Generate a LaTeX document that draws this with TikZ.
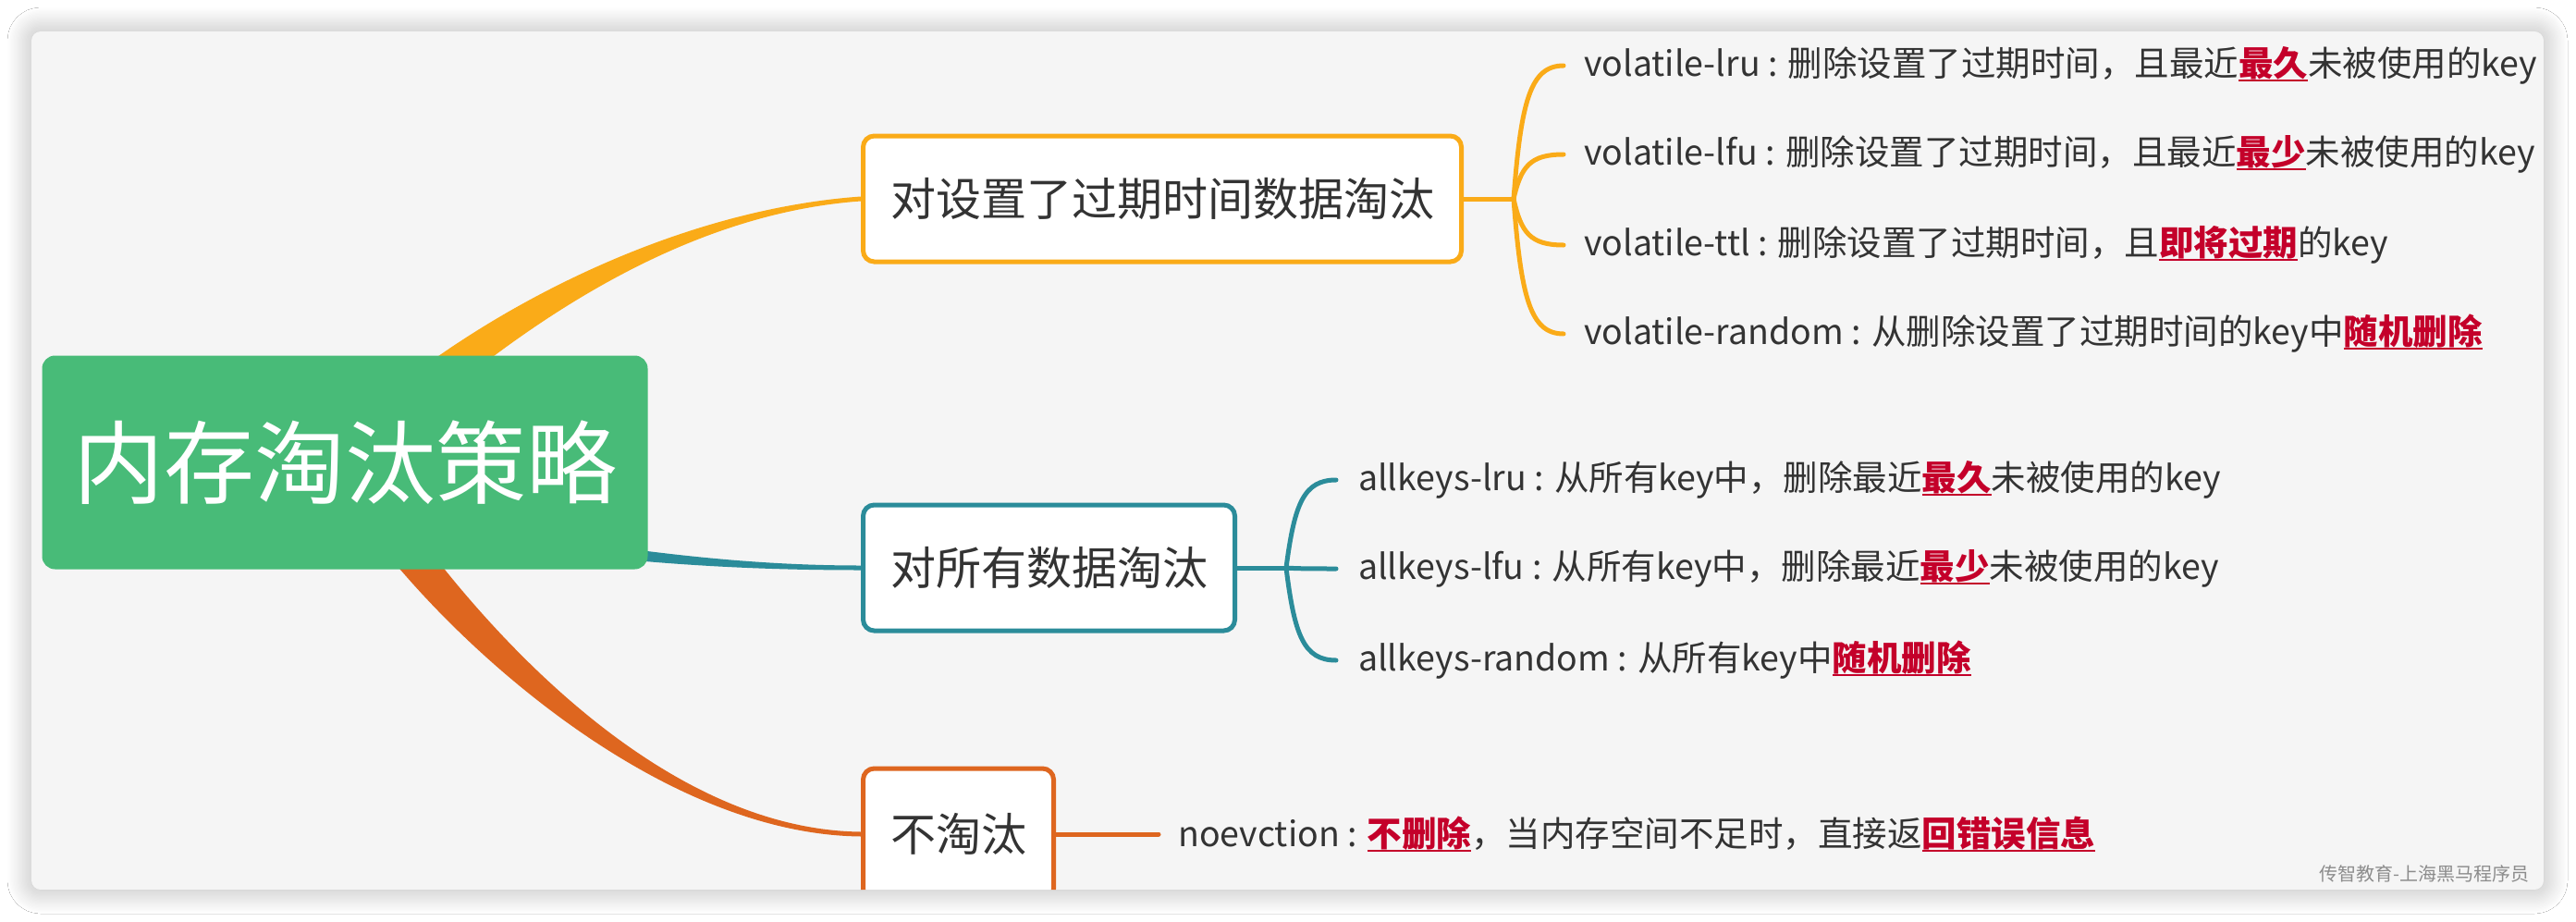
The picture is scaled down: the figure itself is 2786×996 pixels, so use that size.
\documentclass[tikz,border=0pt]{standalone}
\usepackage{fontspec}
\setmainfont{Noto Sans CJK SC}
\usepackage{tikz}
\usetikzlibrary{calc, shadows.blur}

\definecolor{rootgreen}{HTML}{48BB78}
\definecolor{branchorange}{HTML}{FAAB18}
\definecolor{branchteal}{HTML}{2B8C9A}
\definecolor{branchred}{HTML}{DE661F}
\definecolor{cardgray}{HTML}{F5F5F5}
\definecolor{textgray}{HTML}{333333}
\definecolor{keyred}{HTML}{C4002A}
\definecolor{markgray}{HTML}{8C8C8C}

\newcommand{\redword}[1]{\textcolor{keyred}{\bfseries\setbox0=\hbox{#1}\rlap{\rule[-0.14em]{\wd0}{0.06em}}\box0}}

\begin{document}
\begin{tikzpicture}[
    x=1pt, y=-1pt,
    root/.style={rectangle, fill=rootgreen, rounded corners=14pt, minimum width=655pt, minimum height=231pt, text=white, font=\fontsize{98}{118}\selectfont},
    topic/.style={rectangle, draw, line width=5pt, fill=white, rounded corners=12pt, minimum height=136pt, inner xsep=29.5pt, text=textgray, font=\fontsize{49}{59}\selectfont},
    leaf/.style={anchor=west, inner sep=0pt, text=textgray, font=\fontsize{37.5}{45}\selectfont},
    twig/.style={line width=5pt, line cap=round}
]

\useasboundingbox (0,0) rectangle (2786,996);
\fill[white] (0,0) rectangle (2786,996);
\path[fill=cardgray, rounded corners=10pt, blur shadow={shadow xshift=0pt, shadow yshift=0pt, shadow blur radius=26pt, shadow blur steps=20, shadow opacity=30}] (34,34) rectangle (2751,962);

\begin{scope}
\clip[rounded corners=10pt] (34,34) rectangle (2751,962);

% Anchors
\coordinate (rootc) at (373,500);
\coordinate (setw) at (931,215);
\coordinate (allw) at (931,614);
\coordinate (nonew) at (931,902);

% Main branches
\fill[branchorange] ($(rootc)+(13,-45)$) .. controls (506,345) and (720,227.5) .. ($(setw)+(0,-2.5)$)
    -- ($(setw)+(0,2.5)$) .. controls (720,232.5) and (534,375) .. ($(rootc)+(41,-15)$) -- cycle;
\fill[branchteal] ($(rootc)+(128,67)$) .. controls (651,590) and (780,611.5) .. ($(allw)+(0,-2.5)$)
    -- ($(allw)+(0,2.5)$) .. controls (780,616.5) and (649,606) .. ($(rootc)+(126,83)$) -- cycle;
\fill[branchred] ($(rootc)+(44,29)$) .. controls (497,649) and (700,897) .. ($(nonew)+(0,-2.5)$)
    -- ($(nonew)+(0,2.5)$) .. controls (700,902) and (463,671) .. ($(rootc)+(10,51)$) -- cycle;

% Nodes
\node[root] (root) at (rootc) {内存淘汰策略};
\node[topic, draw=branchorange, anchor=west] (set) at (setw) {对设置了过期时间数据淘汰};
\node[topic, draw=branchteal, anchor=west] (all) at (allw) {对所有数据淘汰};
\node[topic, draw=branchred, anchor=west, minimum height=142pt] (none) at (nonew) {不淘汰};

\node[leaf] (vlru) at (1713,71) {volatile-lru : 删除设置了过期时间，且最近\redword{最久}未被使用的key};
\node[leaf] (vlfu) at (1713,167) {volatile-lfu : 删除设置了过期时间，且最近\redword{最少}未被使用的key};
\node[leaf] (vttl) at (1713,265) {volatile-ttl : 删除设置了过期时间，且\redword{即将过期}的key};
\node[leaf] (vrand) at (1713,361) {volatile-random : 从删除设置了过期时间的key中\redword{随机删除}};

\node[leaf] (alru) at (1469,519) {allkeys-lru : 从所有key中，删除最近\redword{最久}未被使用的key};
\node[leaf] (alfu) at (1469,615) {allkeys-lfu : 从所有key中，删除最近\redword{最少}未被使用的key};
\node[leaf] (arand) at (1469,714) {allkeys-random : 从所有key中\redword{随机删除}};

\node[leaf] (noev) at (1274,902) {noevction : \redword{不删除}，当内存空间不足时，直接返\redword{回错误信息}};

\node[anchor=east, inner sep=0pt, text=markgray, font=\fontsize{20}{24}\selectfont] (mark) at (2736,945) {传智教育-上海黑马程序员};

% Twigs
\coordinate (j1) at ([xshift=54pt]set.east);
\coordinate (j2) at ([xshift=53pt]all.east);
\draw[twig, branchorange] (set.east) -- (j1);
\foreach \nm/\ly in {vlru/71, vlfu/167, vttl/265, vrand/361}
    \draw[twig, branchorange] (j1) .. controls (1645,{215+0.73*(\ly-215)}) and (1655,\ly) .. ([xshift=-22pt]\nm.west);
\draw[twig, branchteal] (all.east) -- (j2);
\foreach \nm/\ly in {alru/519, alfu/615, arand/714}
    \draw[twig, branchteal] (j2) .. controls (1400,{614+0.73*(\ly-614)}) and (1410,\ly) .. ([xshift=-24pt]\nm.west);
\draw[twig, branchred] (none.east) -- ([xshift=-21pt]noev.west);

\end{scope}
\end{tikzpicture}
\end{document}
